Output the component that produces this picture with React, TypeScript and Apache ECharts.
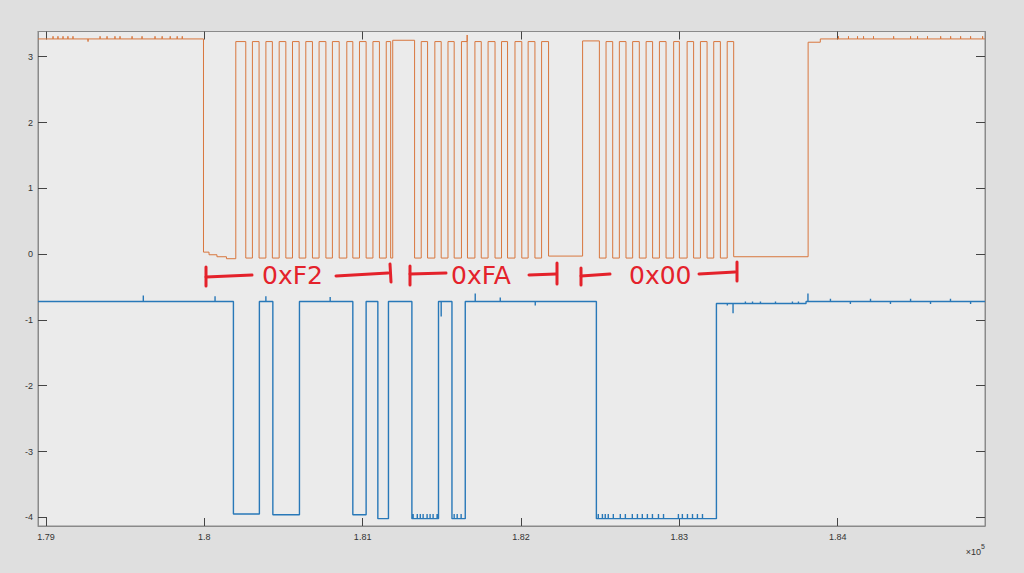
import React, { useEffect, useRef } from "react";
import * as echarts from "echarts";

// ---- axis ranges / ticks ----
const X_MIN = 178950;
const X_MAX = 184930;
const Y_MIN = -4.132;
const Y_MAX = 3.383;
const xTicks = [179000, 180000, 181000, 182000, 183000, 184000];
const yTicks = [-4, -3, -2, -1, 0, 1, 2, 3];

// ---- orange trace (clock): level holds from time[i] to time[i+1] ----
const clockTimes = [
  178950, 179995, 180030, 180080, 180140,
  180199, 180262, 180304, 180346, 180389, 180430, 180473, 180515, 180557, 180599,
  180641, 180683, 180725, 180768, 180809, 180852, 180900, 180938, 180980, 181022,
  181065, 181106, 181149, 181177, 181190, 181328,
  181370, 181410, 181456, 181496, 181539, 181578, 181624, 181662, 181709, 181749,
  181792, 181836, 181877, 181915, 181962, 182005, 182045, 182088, 182130, 182174,
  182389, 182495, 182537, 182579, 182621, 182663, 182705, 182747, 182790, 182831,
  182874, 182916, 182964, 183000, 183049, 183090, 183133, 183175, 183217, 183259,
  183302, 183343, 183813, 183890,
];
const clockLevels = [
  3.27, 0.03, -0.01, -0.04, -0.07,
  3.23, -0.06, 3.23, -0.06, 3.23, -0.06, 3.23, -0.06, 3.23, -0.06,
  3.23, -0.06, 3.23, -0.06, 3.23, -0.06, 3.23, -0.06, 3.23, -0.06,
  3.23, -0.06, 3.23, -0.06, 3.25, -0.06,
  3.23, -0.06, 3.23, -0.06, 3.23, -0.06, 3.23, -0.06, 3.23, -0.06,
  3.23, -0.06, 3.23, -0.06, 3.23, -0.06, 3.23, -0.06, 3.23, -0.03,
  3.24, -0.06, 3.23, -0.06, 3.23, -0.06, 3.23, -0.06, 3.23, -0.06,
  3.23, -0.06, 3.23, -0.06, 3.23, -0.06, 3.23, -0.06, 3.23, -0.06,
  3.23, -0.04, 3.22, 3.27,
];
const clockGlitches: [number, number][] = [
  [179045, 3.31], [179076, 3.31], [179108, 3.31], [179139, 3.31], [179171, 3.31],
  [179266, 3.23], [179342, 3.31], [179386, 3.31], [179436, 3.31], [179468, 3.31],
  [179544, 3.31], [179607, 3.31], [179689, 3.31], [179734, 3.31], [179785, 3.31],
  [179829, 3.31], [179861, 3.31], [181660, 3.33],
  [184005, 3.31], [184068, 3.31], [184125, 3.31], [184163, 3.31], [184226, 3.31],
  [184353, 3.31], [184460, 3.31], [184504, 3.31], [184567, 3.31], [184650, 3.31],
  [184713, 3.31], [184776, 3.31], [184839, 3.31], [184915, 3.31],
];

// ---- blue trace (data) ----
const dataTimes = [
  178950, 180184, 180348, 180433, 180601, 180938, 181022, 181096, 181163,
  181311, 181479, 181564, 181648, 182476, 183234, 183800,
];
const dataLevels = [
  -0.72, -3.95, -0.72, -3.96, -0.72, -3.96, -0.72, -4.02, -0.72,
  -4.02, -0.72, -4.02, -0.72, -4.02, -0.75, -0.72,
];
const dataGlitches: [number, number][] = [
  [179615, -0.63], [180068, -0.64], [180389, -0.64], [180795, -0.65],
  [181319, -3.95], [181345, -3.95], [181364, -3.95], [181382, -3.95],
  [181407, -3.95], [181426, -3.95], [181445, -3.95], [181470, -3.95],
  [181496, -0.95], [181578, -3.95], [181597, -3.95], [181622, -3.95],
  [181711, -0.6], [181869, -0.66], [182090, -0.78],
  [182488, -3.95], [182514, -3.95], [182532, -3.95], [182551, -3.95], [182583, -3.95],
  [182627, -3.95], [182659, -3.95], [182703, -3.95], [182735, -3.95], [182766, -3.95],
  [182798, -3.95], [182830, -3.95], [182868, -3.95], [182900, -3.95], [182994, -3.95],
  [183019, -3.95], [183051, -3.95], [183083, -3.95], [183114, -3.95], [183146, -3.95],
  [183303, -0.78], [183339, -0.9], [183417, -0.72], [183462, -0.72], [183512, -0.72],
  [183607, -0.72], [183714, -0.72], [183752, -0.72], [183812, -0.6],
  [183954, -0.68], [184080, -0.76], [184207, -0.68], [184333, -0.76],
  [184460, -0.68], [184586, -0.76], [184712, -0.68], [184839, -0.76],
];

// ---- annotation labels ----
const byteLabels = ["0xF2", "0xFA", "0x00"];

function buildSteps(times: number[], levels: number[], end: number, glitches: [number, number][]) {
  const pts: [number, number][] = [];
  for (let i = 0; i < times.length; i++) {
    const start = times[i];
    const stop = i + 1 < times.length ? times[i + 1] : end;
    const lvl = levels[i];
    pts.push([start, lvl]);
    for (const g of glitches) {
      if (g[0] > start && g[0] < stop) {
        pts.push([g[0], lvl], [g[0], g[1]], [g[0], lvl]);
      }
    }
    pts.push([stop, lvl]);
  }
  return pts;
}

const RED = "#e4222b";

function annotation() {
  const ls = { stroke: RED, lineWidth: 3, lineCap: "round" as const };
  const line = (x1: number, y1: number, x2: number, y2: number) => ({
    type: "line",
    shape: { x1, y1, x2, y2 },
    style: ls,
    silent: true,
  });
  const txt = (x: number, t: string) => ({
    type: "text",
    x,
    y: 275,
    style: {
      text: t,
      fill: RED,
      font: '25px "DejaVu Sans"',
      textVerticalAlign: "middle",
      textAlign: "left",
    },
    silent: true,
  });
  return [
    line(206, 267, 206, 286), line(206, 277, 252, 275), txt(262, byteLabels[0]),
    line(336, 276, 388, 273), line(390, 264, 391, 282),
    line(410, 266, 410, 285), line(410, 274, 446, 273), txt(451, byteLabels[1]),
    line(529, 275, 556, 274), line(557, 263, 557, 284),
    line(581, 268, 581, 285), line(581, 276, 610, 274), txt(629, byteLabels[2]),
    line(699, 274, 735, 272), line(737, 262, 737, 281),
    {
      type: "text",
      right: 39,
      top: 543,
      style: {
        text: "{a|×10}{b|5}",
        rich: {
          a: { fontSize: 9, fill: "#333", fontFamily: "Liberation Sans", verticalAlign: "bottom" },
          b: { fontSize: 7, fill: "#333", fontFamily: "Liberation Sans", verticalAlign: "top", padding: [0, 0, 6, 0] },
        },
      },
      silent: true,
    },
  ];
}

export default function App() {
  const ref = useRef<HTMLDivElement>(null);
  useEffect(() => {
    if (!ref.current) return;
    const chart = echarts.init(ref.current, null, { renderer: "svg" });
    const labelStyle = { color: "#333", fontSize: 9, fontFamily: "Liberation Sans" };
    const tickStyle = { color: "#444", width: 1 };
    const axisLine = { show: true, onZero: false, lineStyle: { color: "#8a8a8a" } };
    const xFmt = (v: number) => String(parseFloat((v / 1e5).toFixed(4)));
    chart.setOption({
      animation: false,
      backgroundColor: "#dfdfdf",
      grid: {
        left: 38,
        right: 39,
        top: 31.5,
        bottom: 47,
        show: true,
        backgroundColor: "#ebebeb",
        borderColor: "#8a8a8a",
        borderWidth: 1,
      },
      xAxis: [
        {
          type: "value",
          min: X_MIN,
          max: X_MAX,
          position: "bottom",
          axisLine,
          axisTick: { show: true, inside: true, length: 8, lineStyle: tickStyle, customValues: xTicks },
          axisLabel: { ...labelStyle, margin: 6, formatter: xFmt, customValues: xTicks },
          splitLine: { show: false },
        },
        {
          type: "value",
          min: X_MIN,
          max: X_MAX,
          position: "top",
          axisLine,
          axisTick: { show: true, inside: true, length: 8, lineStyle: tickStyle, customValues: xTicks },
          axisLabel: { show: false, customValues: xTicks },
          splitLine: { show: false },
        },
      ],
      yAxis: [
        {
          type: "value",
          min: Y_MIN,
          max: Y_MAX,
          position: "left",
          axisLine,
          axisTick: { show: true, inside: true, length: 9, lineStyle: tickStyle, customValues: yTicks },
          axisLabel: { ...labelStyle, margin: 5, customValues: yTicks },
          splitLine: { show: false },
        },
        {
          type: "value",
          min: Y_MIN,
          max: Y_MAX,
          position: "right",
          axisLine,
          axisTick: { show: true, inside: true, length: 9, lineStyle: tickStyle, customValues: yTicks },
          axisLabel: { show: false, customValues: yTicks },
          splitLine: { show: false },
        },
      ],
      series: [
        {
          name: "data",
          type: "line",
          xAxisIndex: 0,
          yAxisIndex: 0,
          data: buildSteps(dataTimes, dataLevels, X_MAX, dataGlitches),
          showSymbol: false,
          symbol: "none",
          lineStyle: { color: "#2878b8", width: 1.4 },
          silent: true,
        },
        {
          name: "clock",
          type: "line",
          xAxisIndex: 0,
          yAxisIndex: 0,
          data: buildSteps(clockTimes, clockLevels, X_MAX, clockGlitches),
          showSymbol: false,
          symbol: "none",
          lineStyle: { color: "#d8773e", width: 1 },
          silent: true,
        },
      ],
      graphic: annotation(),
    });
    return () => chart.dispose();
  }, []);
  return (
    <div
      ref={ref}
      style={{ position: "absolute", left: 0, top: 0, width: 1024, height: 573 }}
    />
  );
}
